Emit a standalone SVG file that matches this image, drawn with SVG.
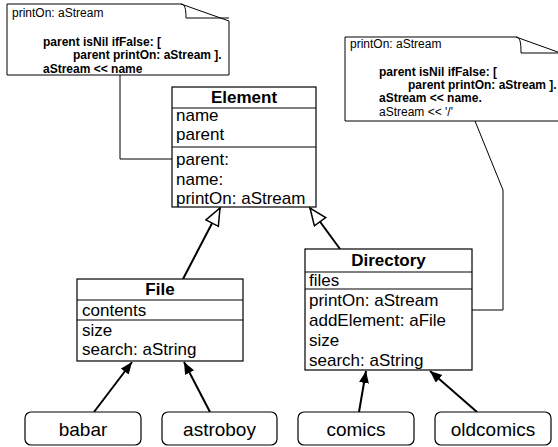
<svg xmlns="http://www.w3.org/2000/svg" width="558" height="447" viewBox="0 0 558 447">
<style>
  text { font-family: "Liberation Sans", Arial, Helvetica, sans-serif; fill: #000; }
  .box { fill: #fff; stroke: #000; stroke-width: 1.2; }
  .sep { stroke: #000; stroke-width: 1.2; }
  .title { font-size: 17px; font-weight: bold; text-anchor: middle; }
  .item { font-size: 17px; }
  .inst { font-size: 19px; text-anchor: middle; }
  .note { fill: #fff; stroke: #000; stroke-width: 1; }
  .fold { fill: none; stroke: #000; stroke-width: 1; }
  .nt { font-size: 12px; }
  .nb { font-size: 12px; font-weight: bold; }
  .anchor { fill: none; stroke: #000; stroke-width: 1; }
  .gen { fill: none; stroke: #000; stroke-width: 2; marker-end: url(#hollow); }
  .dep { fill: none; stroke: #000; stroke-width: 2; marker-end: url(#solid); }
</style>
<defs>
  <marker id="hollow" markerUnits="userSpaceOnUse" markerWidth="20" markerHeight="18" refX="18" refY="8" orient="auto">
    <path d="M1,1 L18,8 L1,15 Z" fill="#fff" stroke="#000" stroke-width="1.5"/>
  </marker>
  <marker id="solid" markerUnits="userSpaceOnUse" markerWidth="14" markerHeight="12" refX="12" refY="5" orient="auto">
    <path d="M0,0 L12,5 L0,10 Z" fill="#000"/>
  </marker>
</defs>

<g id="connectors">
  <path class="anchor" d="M120,75 L120,159 L172,159"/>
  <path class="anchor" d="M475,121 L503,190 L503,310 L472,310"/>
  <line class="gen" x1="183" y1="279" x2="220" y2="208"/>
  <line class="gen" x1="340" y1="249" x2="310" y2="208"/>
  <line class="dep" x1="94" y1="412" x2="132" y2="362"/>
  <line class="dep" x1="210" y1="412" x2="184" y2="362"/>
  <line class="dep" x1="359" y1="412" x2="366" y2="371"/>
  <line class="dep" x1="477" y1="412" x2="430" y2="371"/>
</g>

<g id="note1">
  <path class="note" d="M7,4 L181,4 L229,21 L229,75 L7,75 Z"/>
  <path class="fold" d="M181,4 C185,4 186,9 186,18 L229,18"/>
  <text class="nt" x="12" y="17">printOn: aStream</text>
  <text class="nb" x="43" y="46">parent isNil ifFalse: [</text>
  <text class="nb" x="73" y="59">parent printOn: aStream ].</text>
  <text class="nb" x="43" y="73">aStream &lt;&lt; name</text>
</g>

<g id="note2">
  <path class="note" d="M345,37 L516,37 L566,55 L566,121 L345,121 Z"/>
  <path class="fold" d="M516,37 C520,37 521,42 521,53 L566,53"/>
  <text class="nt" x="350" y="48">printOn: aStream</text>
  <text class="nb" x="379" y="76">parent isNil ifFalse: [</text>
  <text class="nb" x="408" y="89">parent printOn: aStream ].</text>
  <text class="nb" x="379" y="102">aStream &lt;&lt; name.</text>
  <text class="nt" x="379" y="116">aStream &lt;&lt; '/'</text>
</g>

<g id="Element">
  <rect class="box" x="172" y="87" width="144" height="120"/>
  <line class="sep" x1="172" y1="108" x2="316" y2="108"/>
  <line class="sep" x1="172" y1="147" x2="316" y2="147"/>
  <text class="title" x="244" y="103">Element</text>
  <text class="item" x="176" y="121">name</text>
  <text class="item" x="176" y="140">parent</text>
  <text class="item" x="176" y="165">parent:</text>
  <text class="item" x="176" y="185">name:</text>
  <text class="item" x="176" y="204">printOn: aStream</text>
</g>

<g id="File">
  <rect class="box" x="77" y="279" width="166" height="82"/>
  <line class="sep" x1="77" y1="300" x2="243" y2="300"/>
  <line class="sep" x1="77" y1="320" x2="243" y2="320"/>
  <text class="title" x="160" y="295">File</text>
  <text class="item" x="82" y="316">contents</text>
  <text class="item" x="82" y="336">size</text>
  <text class="item" x="82" y="355">search: aString</text>
</g>

<g id="Directory">
  <rect class="box" x="305" y="249" width="167" height="121"/>
  <line class="sep" x1="305" y1="272" x2="472" y2="272"/>
  <line class="sep" x1="305" y1="289" x2="472" y2="289"/>
  <text class="title" x="388.5" y="266">Directory</text>
  <text class="item" x="309" y="286">files</text>
  <text class="item" x="309" y="306">printOn: aStream</text>
  <text class="item" x="309" y="326">addElement: aFile</text>
  <text class="item" x="309" y="346">size</text>
  <text class="item" x="309" y="366">search: aString</text>
</g>

<g id="babar">
  <rect class="box" x="25" y="412" width="116" height="33" rx="6"/>
  <text class="inst" x="83" y="436">babar</text>
</g>
<g id="astroboy">
  <rect class="box" x="162" y="412" width="115" height="33" rx="6"/>
  <text class="inst" x="219.5" y="436">astroboy</text>
</g>
<g id="comics">
  <rect class="box" x="298" y="412" width="116" height="33" rx="6"/>
  <text class="inst" x="356" y="436">comics</text>
</g>
<g id="oldcomics">
  <rect class="box" x="435" y="412" width="116" height="33" rx="6"/>
  <text class="inst" x="493" y="436">oldcomics</text>
</g>
</svg>
